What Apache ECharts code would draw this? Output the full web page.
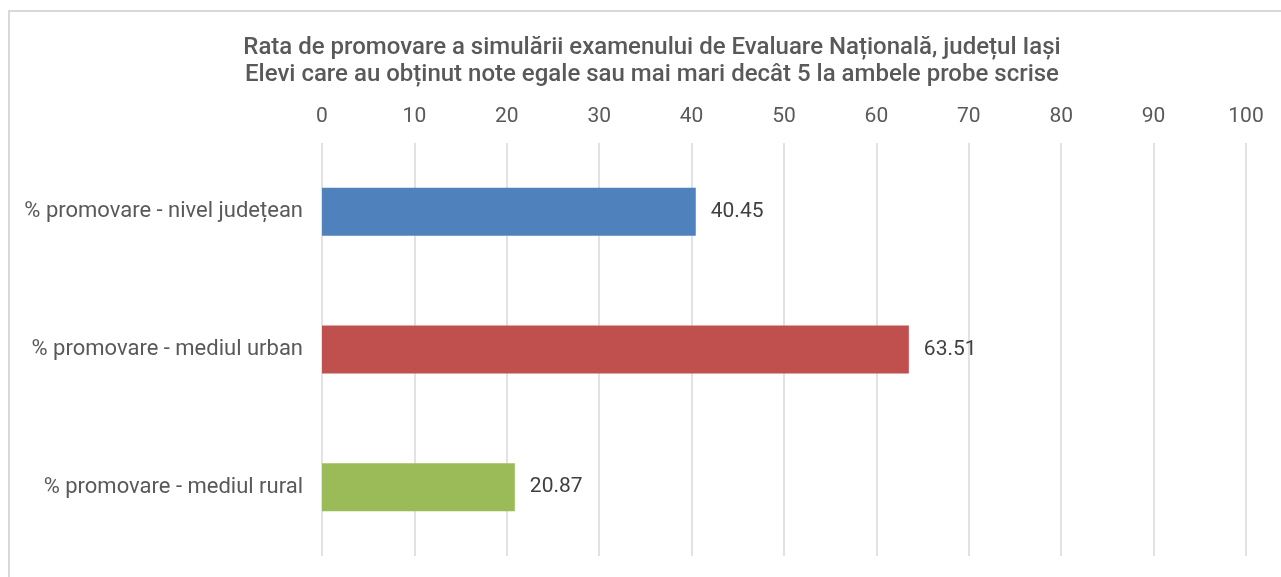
<!DOCTYPE html>
<html>
<head>
<meta charset="utf-8">
<script src="https://cdn.jsdelivr.net/npm/echarts@6/dist/echarts.min.js"></script>
<style>
html,body{margin:0;padding:0;background:#fff;overflow:hidden;}
#frame{position:absolute;left:8px;top:10px;width:1400px;height:700px;border:2px solid #d9d9d9;box-sizing:border-box;}
#c{position:absolute;left:0;top:0;width:1281px;height:577px;}
</style>
</head>
<body>
<div id="frame"></div>
<div id="c"></div>
<script>
var titleLines = ['Rata de promovare a simulării examenului de Evaluare Națională, județul Iași', 'Elevi care au obținut note egale sau mai mari decât 5 la ambele probe scrise'];
var categories = ['% promovare - nivel județean', '% promovare - mediul urban', '% promovare - mediul rural'];
var values = [40.45, 63.51, 20.87];
var colors = ['#4F81BD', '#C0504D', '#9BBB59'];
var axisMin = 0, axisMax = 100, axisStep = 10;

var chart = echarts.init(document.getElementById('c'));
chart.setOption({
  animation: false,
  title: {
    text: titleLines.join('\n'),
    left: 647, top: 29, textAlign: 'center',
    textStyle: {fontFamily: 'Roboto', fontSize: 24, fontWeight: 500, color: '#595959', lineHeight: 27}
  },
  grid: {left: 322, right: 35, top: 143, bottom: 21, containLabel: false},
  xAxis: {
    type: 'value', position: 'top', min: axisMin, max: axisMax, interval: axisStep,
    axisLine: {show: false}, axisTick: {show: false},
    axisLabel: {fontFamily: 'Roboto', fontSize: 21, color: '#595959', margin: 16},
    splitLine: {show: true, lineStyle: {color: '#d9d9d9', width: 1.5}}
  },
  yAxis: {
    type: 'category', data: categories, inverse: true,
    axisLine: {show: false}, axisTick: {show: false},
    axisLabel: {fontFamily: 'Roboto', fontSize: 22, color: '#595959', margin: 19}
  },
  series: [{
    type: 'bar', barWidth: 48,
    data: values.map(function (v, i) { return {value: v, itemStyle: {color: colors[i]}}; }),
    label: {show: true, position: 'right', distance: 15, fontFamily: 'Roboto', fontSize: 21, color: '#404040'}
  }]
});
</script>
</body>
</html>
